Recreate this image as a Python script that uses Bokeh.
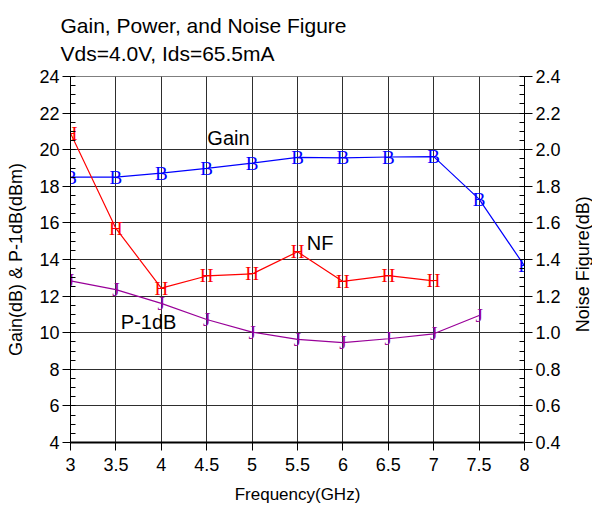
import math
from bokeh.plotting import figure
from bokeh.layouts import row
from bokeh.models import (Range1d, LinearAxis, FixedTicker, PrintfTickFormatter,
                          Label, Title, ColumnDataSource)
from bokeh.core.properties import value
from bokeh.embed import file_html
from bokeh.resources import INLINE

# ---- data ----
freq_gain = [3, 3.5, 4, 4.5, 5, 5.5, 6, 6.5, 7, 7.5, 8]
gain = [18.5, 18.5, 18.72, 18.98, 19.27, 19.58, 19.55, 19.6, 19.62, 17.3, 13.65]

freq_nf = [3, 3.5, 4, 4.5, 5, 5.5, 6, 6.5, 7]
nf = [2.09, 1.57, 1.244, 1.31, 1.321, 1.442, 1.28, 1.312, 1.283]

freq_p1 = [3, 3.5, 4, 4.5, 5, 5.5, 6, 6.5, 7, 7.5]
p1db = [12.83, 12.35, 11.6, 10.72, 10.03, 9.64, 9.46, 9.67, 9.94, 10.94]

x_ticks = [3, 3.5, 4, 4.5, 5, 5.5, 6, 6.5, 7, 7.5, 8]
x_tick_labels = ["3", "3.5", "4", "4.5", "5", "5.5", "6", "6.5", "7", "7.5", "8"]
left_ticks = [4, 6, 8, 10, 12, 14, 16, 18, 20, 22, 24]
right_ticks = [0.4, 0.6, 0.8, 1.0, 1.2, 1.4, 1.6, 1.8, 2.0, 2.2, 2.4]

title_lines = ["Gain, Power, and Noise Figure", "Vds=4.0V, Ids=65.5mA"]
series_labels = [("Gain", 4.74, 20.64), ("NF", 5.75, 14.9), ("P-1dB", 3.86, 10.56)]
right_axis_title = "Noise Figure(dB)"

FONT = "Liberation Sans"
SERIF = "Liberation Serif"
GRID = "#2e2e2e"
H = 506

p = figure(width=563, height=H, x_range=Range1d(3, 8), y_range=Range1d(4, 24),
           output_backend="svg", toolbar_location=None,
           min_border_left=70, min_border_right=38, min_border_top=75, min_border_bottom=62)
p.extra_y_ranges = {"nf": Range1d(0.4, 2.4)}
p.outline_line_color = None
p.background_fill_color = "white"
p.border_fill_color = "white"

def style_axis(ax):
    ax.axis_line_color = "black"
    ax.axis_line_width = 1
    ax.major_tick_line_color = "black"
    ax.minor_tick_line_color = "black"
    ax.major_tick_out = 8
    ax.major_tick_in = 0
    ax.minor_tick_in = 5
    ax.minor_tick_out = 0
    ax.major_label_text_font = FONT
    ax.major_label_text_font_size = "18px"
    ax.major_label_text_color = "black"
    ax.axis_label_text_font = FONT
    ax.axis_label_text_font_size = "18px"
    ax.axis_label_text_font_style = "normal"
    ax.axis_label_text_color = "black"

# bottom axis
xa = p.xaxis[0]
style_axis(xa)
xa.ticker = FixedTicker(ticks=x_ticks)
xa.major_label_overrides = {t: l for t, l in zip(x_ticks, x_tick_labels)}
xa.minor_tick_line_color = None
xa.axis_label = "Frequency(GHz)"
xa.axis_label_text_font_size = "17px"
xa.major_label_standoff = 7
xa.axis_label_standoff = 11
xa.axis_line_width = 2

# left axis
ya = p.yaxis[0]
style_axis(ya)
ya.ticker = FixedTicker(ticks=left_ticks,
                        minor_ticks=[4 + 0.5 * i for i in range(41)])
ya.formatter = PrintfTickFormatter(format="%d")
ya.axis_label = "Gain(dB) & P-1dB(dBm)"
ya.major_label_standoff = 3
ya.axis_label_standoff = 10

# right axis (ticks and numbers)
ra = LinearAxis(y_range_name="nf")
style_axis(ra)
ra.ticker = FixedTicker(ticks=right_ticks,
                        minor_ticks=[0.4 + 0.05 * i for i in range(41)])
ra.formatter = PrintfTickFormatter(format="%.1f")
ra.major_label_standoff = 3
p.add_layout(ra, "right")

# grid
p.xgrid.ticker = FixedTicker(ticks=x_ticks)
p.ygrid.ticker = FixedTicker(ticks=left_ticks)
for g in (p.xgrid[0], p.ygrid[0]):
    g.grid_line_color = GRID
    g.grid_line_width = 1
    g.grid_line_alpha = 1.0

# top border line (grid at 24 is the frame edge)
p.line(x=[x_ticks[0], x_ticks[-1]], y=[left_ticks[-1], left_ticks[-1]], line_color="black", line_width=1)

# series
def series(xs, ys, color, letter, y_range_name="default"):
    src = ColumnDataSource(dict(x=xs, y=ys, t=[letter] * len(xs)))
    p.line("x", "y", source=src, line_color=color, line_width=1.2, y_range_name=y_range_name)
    p.text("x", "y", text="t", source=src, text_color=color, text_font=value(SERIF),
           text_font_size="19px", text_align="center", text_baseline="middle",
           y_range_name=y_range_name)

series(freq_gain, gain, "#0000ff", "B")
series(freq_nf, nf, "#ff0000", "H", "nf")
series(freq_p1, p1db, "#990099", "J")

for txt, lx, ly in series_labels:
    p.add_layout(Label(x=lx, y=ly, text=txt, text_font=FONT, text_font_size="20px",
                       text_align="center", text_baseline="middle", text_color="black"))

# two-line title
p.add_layout(Title(text="\n".join(title_lines), align="left", offset=-10, standoff=22,
                   text_font=FONT, text_font_size="21px", text_font_style="normal",
                   text_line_height=1.245, text_color="black"), "above")

# narrow strip to the right carrying the upward-reading right-axis title
side_w = 29
s = figure(width=side_w, height=H, x_range=Range1d(0, side_w), y_range=Range1d(0, H),
           output_backend="svg", toolbar_location=None,
           x_axis_location=None, y_axis_location=None,
           min_border=0, min_border_left=0, min_border_right=0,
           min_border_top=0, min_border_bottom=0)
s.outline_line_color = None
s.xgrid.visible = False
s.ygrid.visible = False
s.background_fill_color = "white"
s.border_fill_color = "white"
s.add_layout(Label(x=19, y=H - 259.5, text=right_axis_title, angle=math.pi / 2,
                   text_font=FONT, text_font_size="18px", text_align="center",
                   text_baseline="middle", text_color="black"))

layout = row(p, s, spacing=0)
open("out.html", "w").write(file_html(layout, INLINE))
